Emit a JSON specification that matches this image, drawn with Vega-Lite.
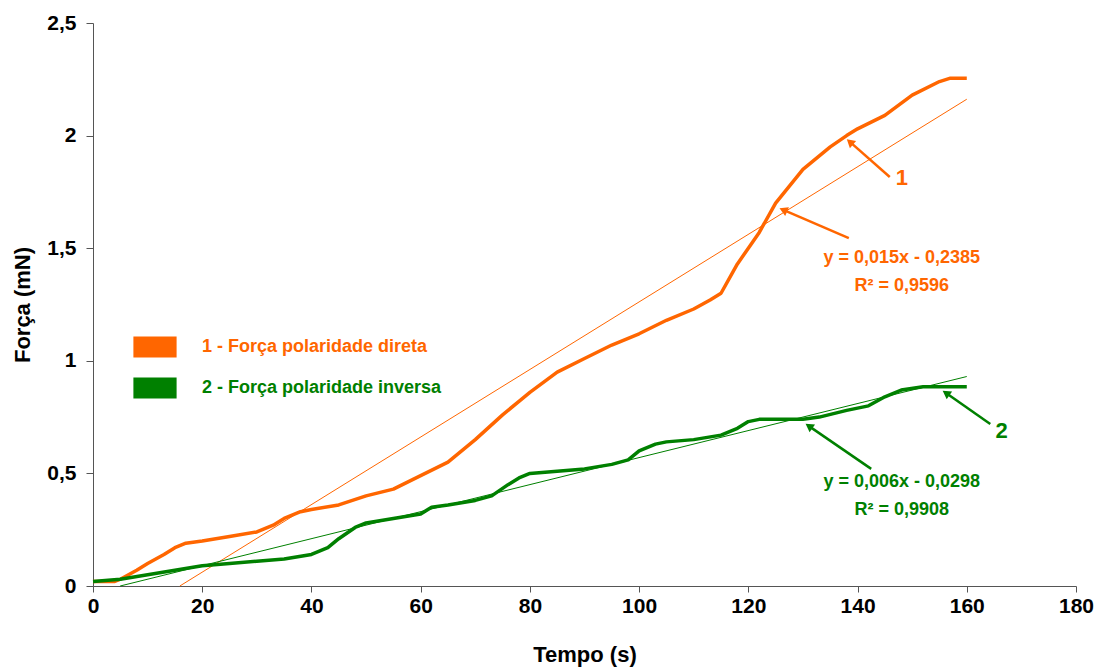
{
  "$schema": "https://vega.github.io/schema/vega-lite/v6.json",
  "width": 983,
  "height": 563,
  "autosize": {"type": "none"},
  "padding": {"left": 93, "top": 23, "right": 23, "bottom": 82},
  "background": "white",
  "config": {
    "font": "Liberation Sans",
    "view": {"stroke": null},
    "axis": {
      "grid": false,
      "domainColor": "#555555",
      "tickColor": "#555555",
      "labelFont": "Liberation Sans",
      "labelFontWeight": "bold",
      "labelFontSize": 21,
      "labelColor": "#000000",
      "titleFont": "Liberation Sans",
      "titleFontWeight": "bold",
      "titleFontSize": 22,
      "titleColor": "#000000"
    }
  },
  "datasets": {
    "curves": [
      {"serie": "1 - Força polaridade direta", "t": 0, "f": 0.02},
      {"serie": "1 - Força polaridade direta", "t": 4, "f": 0.02},
      {"serie": "1 - Força polaridade direta", "t": 5, "f": 0.03},
      {"serie": "1 - Força polaridade direta", "t": 8, "f": 0.07},
      {"serie": "1 - Força polaridade direta", "t": 10, "f": 0.1},
      {"serie": "1 - Força polaridade direta", "t": 13, "f": 0.14},
      {"serie": "1 - Força polaridade direta", "t": 15, "f": 0.17},
      {"serie": "1 - Força polaridade direta", "t": 17, "f": 0.19},
      {"serie": "1 - Força polaridade direta", "t": 20, "f": 0.2},
      {"serie": "1 - Força polaridade direta", "t": 25, "f": 0.22},
      {"serie": "1 - Força polaridade direta", "t": 30, "f": 0.24},
      {"serie": "1 - Força polaridade direta", "t": 33, "f": 0.27},
      {"serie": "1 - Força polaridade direta", "t": 35, "f": 0.3},
      {"serie": "1 - Força polaridade direta", "t": 38, "f": 0.33},
      {"serie": "1 - Força polaridade direta", "t": 40, "f": 0.34},
      {"serie": "1 - Força polaridade direta", "t": 45, "f": 0.36},
      {"serie": "1 - Força polaridade direta", "t": 50, "f": 0.4},
      {"serie": "1 - Força polaridade direta", "t": 55, "f": 0.43},
      {"serie": "1 - Força polaridade direta", "t": 60, "f": 0.49},
      {"serie": "1 - Força polaridade direta", "t": 65, "f": 0.55},
      {"serie": "1 - Força polaridade direta", "t": 70, "f": 0.65},
      {"serie": "1 - Força polaridade direta", "t": 75, "f": 0.76},
      {"serie": "1 - Força polaridade direta", "t": 78, "f": 0.82},
      {"serie": "1 - Força polaridade direta", "t": 80, "f": 0.86},
      {"serie": "1 - Força polaridade direta", "t": 85, "f": 0.95},
      {"serie": "1 - Força polaridade direta", "t": 90, "f": 1.01},
      {"serie": "1 - Força polaridade direta", "t": 95, "f": 1.07},
      {"serie": "1 - Força polaridade direta", "t": 100, "f": 1.12},
      {"serie": "1 - Força polaridade direta", "t": 105, "f": 1.18},
      {"serie": "1 - Força polaridade direta", "t": 110, "f": 1.23},
      {"serie": "1 - Força polaridade direta", "t": 113, "f": 1.27},
      {"serie": "1 - Força polaridade direta", "t": 115, "f": 1.3},
      {"serie": "1 - Força polaridade direta", "t": 118, "f": 1.43},
      {"serie": "1 - Força polaridade direta", "t": 120, "f": 1.5},
      {"serie": "1 - Força polaridade direta", "t": 122, "f": 1.57},
      {"serie": "1 - Força polaridade direta", "t": 125, "f": 1.7},
      {"serie": "1 - Força polaridade direta", "t": 130, "f": 1.85},
      {"serie": "1 - Força polaridade direta", "t": 135, "f": 1.95},
      {"serie": "1 - Força polaridade direta", "t": 138, "f": 2.0},
      {"serie": "1 - Força polaridade direta", "t": 140, "f": 2.03},
      {"serie": "1 - Força polaridade direta", "t": 145, "f": 2.09},
      {"serie": "1 - Força polaridade direta", "t": 150, "f": 2.18},
      {"serie": "1 - Força polaridade direta", "t": 155, "f": 2.24},
      {"serie": "1 - Força polaridade direta", "t": 157, "f": 2.255},
      {"serie": "1 - Força polaridade direta", "t": 160, "f": 2.255},
      {"serie": "2 - Força polaridade inversa", "t": 0, "f": 0.02},
      {"serie": "2 - Força polaridade inversa", "t": 5, "f": 0.03},
      {"serie": "2 - Força polaridade inversa", "t": 10, "f": 0.05},
      {"serie": "2 - Força polaridade inversa", "t": 15, "f": 0.07},
      {"serie": "2 - Força polaridade inversa", "t": 20, "f": 0.09},
      {"serie": "2 - Força polaridade inversa", "t": 25, "f": 0.1},
      {"serie": "2 - Força polaridade inversa", "t": 30, "f": 0.11},
      {"serie": "2 - Força polaridade inversa", "t": 35, "f": 0.12},
      {"serie": "2 - Força polaridade inversa", "t": 40, "f": 0.14},
      {"serie": "2 - Força polaridade inversa", "t": 43, "f": 0.17},
      {"serie": "2 - Força polaridade inversa", "t": 45, "f": 0.21},
      {"serie": "2 - Força polaridade inversa", "t": 48, "f": 0.26},
      {"serie": "2 - Força polaridade inversa", "t": 50, "f": 0.28},
      {"serie": "2 - Força polaridade inversa", "t": 55, "f": 0.3},
      {"serie": "2 - Força polaridade inversa", "t": 60, "f": 0.32},
      {"serie": "2 - Força polaridade inversa", "t": 62, "f": 0.35},
      {"serie": "2 - Força polaridade inversa", "t": 65, "f": 0.36},
      {"serie": "2 - Força polaridade inversa", "t": 70, "f": 0.38},
      {"serie": "2 - Força polaridade inversa", "t": 73, "f": 0.4},
      {"serie": "2 - Força polaridade inversa", "t": 76, "f": 0.45},
      {"serie": "2 - Força polaridade inversa", "t": 78, "f": 0.48},
      {"serie": "2 - Força polaridade inversa", "t": 80, "f": 0.5},
      {"serie": "2 - Força polaridade inversa", "t": 85, "f": 0.51},
      {"serie": "2 - Força polaridade inversa", "t": 90, "f": 0.52},
      {"serie": "2 - Força polaridade inversa", "t": 95, "f": 0.54},
      {"serie": "2 - Força polaridade inversa", "t": 98, "f": 0.56},
      {"serie": "2 - Força polaridade inversa", "t": 100, "f": 0.6},
      {"serie": "2 - Força polaridade inversa", "t": 103, "f": 0.63},
      {"serie": "2 - Força polaridade inversa", "t": 105, "f": 0.64},
      {"serie": "2 - Força polaridade inversa", "t": 110, "f": 0.65},
      {"serie": "2 - Força polaridade inversa", "t": 115, "f": 0.67},
      {"serie": "2 - Força polaridade inversa", "t": 118, "f": 0.7},
      {"serie": "2 - Força polaridade inversa", "t": 120, "f": 0.73},
      {"serie": "2 - Força polaridade inversa", "t": 122, "f": 0.74},
      {"serie": "2 - Força polaridade inversa", "t": 130, "f": 0.74},
      {"serie": "2 - Força polaridade inversa", "t": 133, "f": 0.75},
      {"serie": "2 - Força polaridade inversa", "t": 138, "f": 0.78},
      {"serie": "2 - Força polaridade inversa", "t": 142, "f": 0.8},
      {"serie": "2 - Força polaridade inversa", "t": 145, "f": 0.84},
      {"serie": "2 - Força polaridade inversa", "t": 148, "f": 0.87},
      {"serie": "2 - Força polaridade inversa", "t": 152, "f": 0.885},
      {"serie": "2 - Força polaridade inversa", "t": 160, "f": 0.885}
    ],
    "trend": [
      {"serie": "1 - Força polaridade direta", "t": 15.9, "f": 0},
      {"serie": "1 - Força polaridade direta", "t": 160, "f": 2.1615},
      {"serie": "2 - Força polaridade inversa", "t": 4.97, "f": 0},
      {"serie": "2 - Força polaridade inversa", "t": 160, "f": 0.9302}
    ],
    "notes": [
      {"serie": "1 - Força polaridade direta", "t": 148.1, "f": 1.81, "txt": "1", "kind": "num"},
      {"serie": "2 - Força polaridade inversa", "t": 166.4, "f": 0.688, "txt": "2", "kind": "num"},
      {"serie": "1 - Força polaridade direta", "t": 148.1, "f": 1.456, "txt": "y = 0,015x - 0,2385", "kind": "eq"},
      {"serie": "1 - Força polaridade direta", "t": 148.1, "f": 1.332, "txt": "R² = 0,9596", "kind": "eq"},
      {"serie": "2 - Força polaridade inversa", "t": 148.1, "f": 0.462, "txt": "y = 0,006x - 0,0298", "kind": "eq"},
      {"serie": "2 - Força polaridade inversa", "t": 148.1, "f": 0.337, "txt": "R² = 0,9908", "kind": "eq"}
    ],
    "arrows": [
      {"id": "a1", "serie": "1 - Força polaridade direta", "t": 145.9, "f": 1.816, "end": "tail"},
      {"id": "a1", "serie": "1 - Força polaridade direta", "t": 138.6, "f": 1.972, "end": "tip"},
      {"id": "a2", "serie": "1 - Força polaridade direta", "t": 138.4, "f": 1.545, "end": "tail"},
      {"id": "a2", "serie": "1 - Força polaridade direta", "t": 126.4, "f": 1.67, "end": "tip"},
      {"id": "a3", "serie": "2 - Força polaridade inversa", "t": 164.3, "f": 0.719, "end": "tail"},
      {"id": "a3", "serie": "2 - Força polaridade inversa", "t": 156.2, "f": 0.857, "end": "tip"},
      {"id": "a4", "serie": "2 - Força polaridade inversa", "t": 142.5, "f": 0.52, "end": "tail"},
      {"id": "a4", "serie": "2 - Força polaridade inversa", "t": 131.1, "f": 0.71, "end": "tip"}
    ]
  },
  "encoding": {
    "x": {
      "field": "t", "type": "quantitative",
      "scale": {"domain": [0, 180], "nice": false},
      "axis": {
        "title": "Tempo (s)",
        "values": [0, 20, 40, 60, 80, 100, 120, 140, 160, 180],
        "tickSize": 6, "labelPadding": 3, "titlePadding": 28,
        "labelFlush": false
      }
    },
    "y": {
      "field": "f", "type": "quantitative",
      "scale": {"domain": [0, 2.5], "nice": false},
      "axis": {
        "title": "Força (mN)",
        "values": [0, 0.5, 1, 1.5, 2, 2.5],
        "labelExpr": "replace(toString(datum.value), '.', ',')",
        "tickSize": 7, "labelPadding": 10, "titlePadding": 12,
        "labelFlush": false
      }
    },
    "color": {
      "field": "serie", "type": "nominal",
      "scale": {
        "domain": ["1 - Força polaridade direta", "2 - Força polaridade inversa"],
        "range": ["#FF6600", "#008000"]
      },
      "legend": {
        "title": null,
        "orient": "none",
        "legendX": 40,
        "legendY": 302,
        "padding": 0,
        "symbolType": "M-1,-0.476H1V0.476H-1Z",
        "symbolSize": 1764,
        "symbolStrokeWidth": 1.2,
        "symbolStrokeColor": "#222222",
        "rowPadding": 6,
        "labelOffset": 25,
        "labelFont": "Liberation Sans",
        "labelFontWeight": "bold",
        "labelFontSize": 18,
        "labelLimit": 400,
        "encode": {
          "symbols": {
            "enter": {
              "stroke": {"value": "#222222"},
              "strokeWidth": {"value": 1.2}
            },
            "update": {
              "fill": {"signal": "datum.value == '1 - Força polaridade direta' ? '#FF6600' : '#008000'"},
              "stroke": {"value": "#222222"},
              "strokeWidth": {"value": 1.2},
              "opacity": {"value": 1},
              "fillOpacity": {"value": 1},
              "strokeOpacity": {"value": 1}
            }
          },
          "labels": {
            "update": {
              "fill": {"signal": "datum.value == '1 - Força polaridade direta' ? '#FF6600' : '#008000'"}
            }
          }
        }
      }
    }
  },
  "layer": [
    {
      "data": {"name": "trend"},
      "mark": {"type": "line", "strokeWidth": 1},
      "encoding": {"detail": {"field": "serie"}}
    },
    {
      "data": {"name": "curves"},
      "mark": {"type": "line", "strokeWidth": 3.5, "strokeJoin": "round"}
    },
    {
      "data": {"name": "arrows"},
      "mark": {"type": "line", "strokeWidth": 2.5},
      "encoding": {"detail": {"field": "id"}}
    },
    {
      "data": {"name": "arrows"},
      "transform": [{"filter": "datum.id == 'a1' && datum.end == 'tip'"}],
      "mark": {"type": "point", "shape": "triangle-up", "filled": true, "opacity": 1, "size": 90, "angle": 311}
    },
    {
      "data": {"name": "arrows"},
      "transform": [{"filter": "datum.id == 'a2' && datum.end == 'tip'"}],
      "mark": {"type": "point", "shape": "triangle-up", "filled": true, "opacity": 1, "size": 90, "angle": 293}
    },
    {
      "data": {"name": "arrows"},
      "transform": [{"filter": "datum.id == 'a3' && datum.end == 'tip'"}],
      "mark": {"type": "point", "shape": "triangle-up", "filled": true, "opacity": 1, "size": 90, "angle": 305}
    },
    {
      "data": {"name": "arrows"},
      "transform": [{"filter": "datum.id == 'a4' && datum.end == 'tip'"}],
      "mark": {"type": "point", "shape": "triangle-up", "filled": true, "opacity": 1, "size": 90, "angle": 305}
    },
    {
      "data": {"name": "notes"},
      "transform": [{"filter": "datum.kind == 'eq'"}],
      "mark": {"type": "text", "font": "Liberation Sans", "fontWeight": "bold", "fontSize": 18, "align": "center", "baseline": "middle"},
      "encoding": {"text": {"field": "txt"}}
    },
    {
      "data": {"name": "notes"},
      "transform": [{"filter": "datum.kind == 'num'"}],
      "mark": {"type": "text", "font": "Liberation Sans", "fontWeight": "bold", "fontSize": 22, "align": "center", "baseline": "middle"},
      "encoding": {"text": {"field": "txt"}}
    }
  ]
}
